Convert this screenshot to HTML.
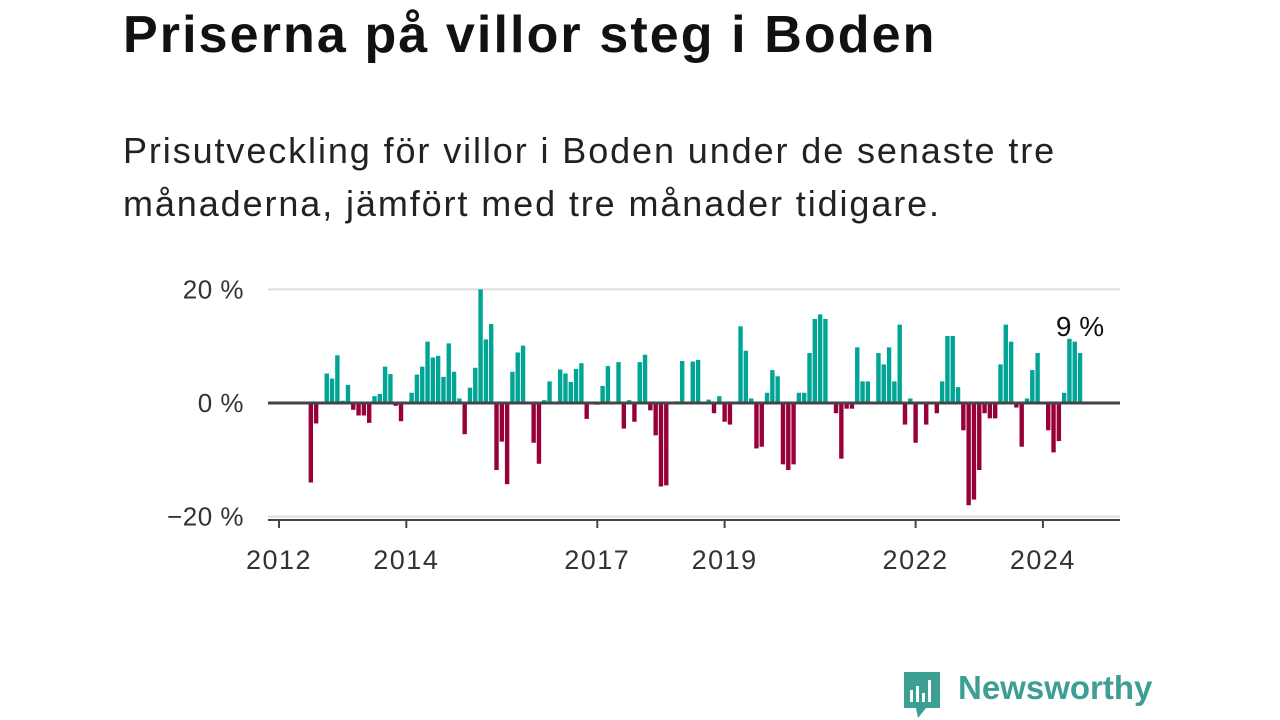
<!DOCTYPE html>
<html><head><meta charset="utf-8"><style>
body{margin:0;width:1280px;height:720px;background:#fff;font-family:"Liberation Sans",sans-serif;overflow:hidden;position:relative}
#title{position:absolute;left:123px;top:5px;font-size:52px;font-weight:bold;color:#111;margin:0;letter-spacing:2.1px;white-space:nowrap}
#sub{position:absolute;left:123px;top:124px;font-size:36px;line-height:53px;color:#222;margin:0;letter-spacing:1.9px;white-space:nowrap}
svg{position:absolute;left:0;top:0}
#logo{position:absolute;left:958px;top:669px;font-size:33px;font-weight:bold;color:#3d9e94}
</style></head><body>
<h1 id="title">Priserna på villor steg i Boden</h1>
<p id="sub">Prisutveckling för villor i Boden under de senaste tre<br>månaderna, jämfört med tre månader tidigare.</p>
<svg id="chart" width="1280" height="720"></svg>
<svg width="1280" height="720"><path d="M904 672h36v36h-14l-8 10-2-10h-12z" fill="#3d9e94"/><rect x="910" y="690" width="3" height="12" fill="#fff"/><rect x="916" y="686" width="3" height="16" fill="#fff"/><rect x="922" y="693" width="3" height="9" fill="#fff"/><rect x="928" y="680" width="3" height="22" fill="#fff"/></svg>
<div id="logo">Newsworthy</div>
<script>
const startMonth = 6;
const values = [-14,-3.6,0,5.2,4.3,8.4,0.4,3.2,-1.2,-2.2,-2.2,-3.5,1.2,1.6,6.4,5.1,-0.5,-3.2,0,1.8,5,6.4,10.8,8,8.3,4.6,10.5,5.5,0.8,-5.5,2.7,6.2,20,11.2,13.9,-11.8,-6.8,-14.3,5.5,8.9,10.1,0,-7,-10.7,0.5,3.8,0,5.9,5.2,3.7,6,7,-2.8,0,-0.3,3,6.5,0,7.2,-4.5,0.5,-3.3,7.2,8.5,-1.3,-5.7,-14.7,-14.5,0,0.3,7.4,0,7.3,7.6,0,0.6,-1.8,1.2,-3.3,-3.8,0,13.5,9.2,0.8,-8,-7.7,1.8,5.8,4.7,-10.8,-11.8,-10.8,1.8,1.8,8.8,14.8,15.6,14.8,0,-1.8,-9.8,-1,-1,9.8,3.8,3.8,0,8.8,6.8,9.8,3.8,13.8,-3.8,0.8,-7,0,-3.8,0,-1.8,3.8,11.8,11.8,2.8,-4.8,-18,-17,-11.8,-1.8,-2.7,-2.7,6.8,13.8,10.8,-0.8,-7.7,0.8,5.8,8.8,0,-4.8,-8.7,-6.7,1.8,11.3,10.8,8.8];
const yTicks = [20,0,-20];
const yTickLabels = ["20 %","0 %","\u221220 %"];
const xTickYears = [2012,2014,2017,2019,2022,2024];
const lastLabel = "9 %";
const svg=document.getElementById('chart');
const NS='http://www.w3.org/2000/svg';
const x=m=>279+m*5.305;
const y=v=>403-v*5.68;
function mk(t,a){const e=document.createElementNS(NS,t);for(const k in a)e.setAttribute(k,a[k]);svg.appendChild(e);return e;}
yTicks.forEach((t,i)=>{
  const g=mk('line',{x1:268,x2:1120,y1:y(t),y2:y(t),stroke:'#ddd','stroke-width':2});
  
  
  const l=mk('text',{x:244,y:y(t)+9,'text-anchor':'end','font-size':26,'letter-spacing':0.5,fill:'#333','font-family':'Liberation Sans, sans-serif'});
  l.textContent=yTickLabels[i];
  
  
});
values.forEach((v,i)=>{
  if(v===0)return;
  const m=startMonth+i;
  const r=mk('rect',{x:x(m)-2.2,width:4.4,y:Math.min(y(v),y(0)),height:Math.abs(y(v)-y(0)),fill:v>0?'#00a596':'#98003a'});
  
  
});
const z=mk('line',{x1:268,x2:1120,y1:y(0),y2:y(0),stroke:'#444','stroke-width':3});


const ax=mk('line',{x1:268,x2:1120,y1:520,y2:520,stroke:'#444','stroke-width':2});


xTickYears.forEach(yr=>{
  const m=(yr-2012)*12;
  const t=mk('line',{x1:x(m),x2:x(m),y1:520,y2:528,stroke:'#444','stroke-width':2});
  
  
  const l=mk('text',{x:x(m),y:569,'text-anchor':'middle','font-size':27,'letter-spacing':1.5,fill:'#333','font-family':'Liberation Sans, sans-serif'});
  l.textContent=yr;
  
  
});
const lm=startMonth+values.length-1;
const lab=mk('text',{x:x(lm),y:y(values[values.length-1])-17,'text-anchor':'middle','font-size':28,fill:'#111','font-family':'Liberation Sans, sans-serif'});
lab.textContent=lastLabel;


</script>
</body></html>
